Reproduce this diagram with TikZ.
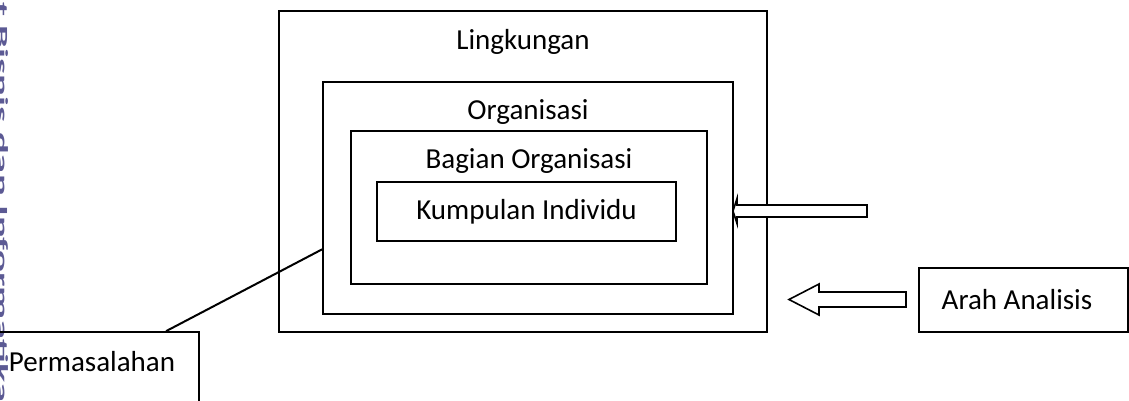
\documentclass[tikz,border=0pt]{standalone}
\usepackage{fontspec}
\setmainfont{Carlito}
\usepackage{xcolor}
\usepackage{tikz}
\usetikzlibrary{positioning}
\definecolor{wmark}{RGB}{92,90,148}
\tikzset{box/.style={rectangle,draw,line width=1.8pt,inner sep=0pt},
         txt/.style={font=\fontsize{29}{34}\selectfont,inner sep=0pt},
         blk/.style={draw,fill=white,line width=1.6pt,line join=miter},
         wm/.style={font=\fontsize{17}{20}\selectfont\bfseries,text=wmark,inner sep=0pt}}

\begin{document}
\begin{tikzpicture}[x=1pt,y=-1pt]
        \useasboundingbox (0,0) rectangle (1129,400);
        \clip (0,0) rectangle (1129,400);

        \node[wm,rotate=-90,xscale=2.4,anchor=base west] (wmk) at (-3.5,-107) {Institut Bisnis dan Informatika Kwik Kian Gie};

        \node[box,minimum width=488,minimum height=321] (lingk) at (523,171.5) {};
        \node[box,minimum width=410,minimum height=232] (org) at (528,198) {};
        \node[box,minimum width=356,minimum height=153] (bag) at (529,207.5) {};
        \node[box,minimum width=299,minimum height=59] (kump) at (526.5,211.5) {};

        \node[txt] (lingkt) at (523,42) {Lingkungan};
        \node[txt] (orgt) at (528,112) {Organisasi};
        \node[txt] (bagt) at (529,161) {Bagian Organisasi};
        \node[txt] (kumpt) at (kump) {Kumpulan Individu};

        \node[box,minimum width=204,minimum height=88] (perm) at (97,376) {};
        \node[txt] (permt) at (92,362) {Permasalahan};
        \draw[line width=2pt] (perm.33.7) -- (org.194.5);

        \node[box,minimum width=209,minimum height=64] (arah) at (1023.5,300) {};
        \node[txt] (araht) at (1017,300) {Arah Analisis};

        % panah blok
        \draw[blk] (733,211) -- (737,198.5) -- (737,205) -- (867,205) -- (867,217)
                -- (737,217) -- (737,223.5) -- cycle;
        \draw[blk] (789,299.5) -- (819,284) -- (819,292) -- (906,292) -- (906,307)
                -- (819,307) -- (819,315) -- cycle;
    \end{tikzpicture}
\end{document}
